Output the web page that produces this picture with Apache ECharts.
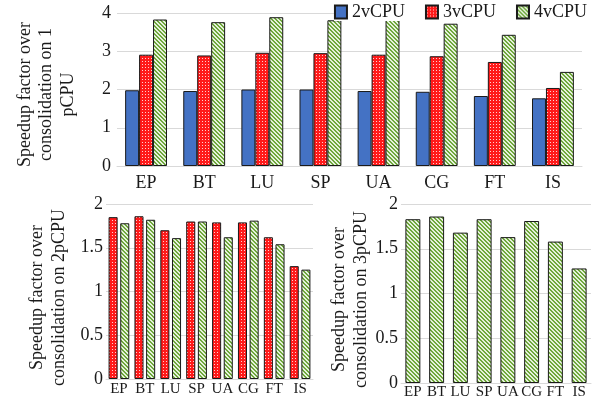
<!DOCTYPE html>
<html><head><meta charset="utf-8">
<script src="https://cdn.jsdelivr.net/npm/echarts@6/dist/echarts.min.js"></script>
<style>html,body{margin:0;padding:0;background:#fff}#c{width:597px;height:404px}</style>
</head><body><div id="c"></div>
<script>
const categories = ['EP','BT','LU','SP','UA','CG','FT','IS'];
const seriesNames = ['2vCPU','3vCPU','4vCPU'];
const vcpu2On1 = [1.98,1.96,2.00,2.00,1.96,1.94,1.83,1.77];
const vcpu3On1 = [2.91,2.89,2.96,2.95,2.91,2.87,2.72,2.04];
const vcpu4On1 = [3.83,3.76,3.89,3.81,3.82,3.72,3.43,2.46];
const vcpu3On2 = [1.85,1.86,1.70,1.80,1.79,1.79,1.62,1.29];
const vcpu4On2 = [1.78,1.82,1.61,1.80,1.62,1.81,1.54,1.25];
const vcpu4On3 = [1.83,1.86,1.68,1.83,1.63,1.81,1.58,1.28];
const topTicks = [0,1,2,3,4];
const bottomTicks = [0,0.5,1,1.5,2];

function dotPattern(){
  const c=document.createElement('canvas');c.width=3;c.height=3;
  const g=c.getContext('2d');g.fillStyle='#ff1a1a';g.fillRect(0,0,3,3);
  g.fillStyle='#ffd0d0';g.fillRect(1,1,1,1);return c;
}
function stripePattern(){
  const c=document.createElement('canvas');c.width=4;c.height=4;
  const g=c.getContext('2d');g.fillStyle='#e6f1dc';g.fillRect(0,0,4,4);
  g.fillStyle='#6fa83c';
  for(let y=0;y<4;y++)for(let x=0;x<4;x++){const d=((x-y)%4+4)%4;if(d<2)g.fillRect(x,y,1,1);}
  return c;
}
const blueStyle={color:'#4472c4',borderColor:'#1a1a1a',borderWidth:1};
const redStyle={color:{image:dotPattern(),repeat:'repeat'},borderColor:'#1a1a1a',borderWidth:1};
const greenStyle={color:{image:stripePattern(),repeat:'repeat'},borderColor:'#1a1a1a',borderWidth:1};
const FF='Liberation Serif';
const TXT='#1a1a1a';

function xAx(idx,fs,margin){return {type:'category',gridIndex:idx,data:categories,
  axisLine:{show:true,lineStyle:{color:'#d9d9d9'}},axisTick:{show:false},
  axisLabel:{interval:0,fontFamily:FF,fontSize:fs,color:TXT,margin:margin}};}
function yAx(idx,ticks,name,gap,pad,lm){return {type:'value',gridIndex:idx,min:ticks[0],max:ticks[ticks.length-1],
  interval:ticks[1]-ticks[0],name:name,nameLocation:'middle',nameRotate:90,nameGap:gap,
  nameTextStyle:{fontFamily:FF,fontSize:18,color:TXT,lineHeight:21.5,padding:pad},
  axisLine:{show:false},axisTick:{show:false},
  axisLabel:{fontFamily:FF,fontSize:18,color:TXT,margin:lm},
  splitLine:{lineStyle:{color:'#d9d9d9'}}};}

const chart=echarts.init(document.getElementById('c'));
chart.setOption({
  animation:false,
  legend:{data:seriesNames,right:10,top:3,itemWidth:12,itemHeight:13,itemGap:20,icon:'rect',
    backgroundColor:'#fff',padding:0,
    textStyle:{fontFamily:FF,fontSize:18,color:TXT,lineHeight:13}},
  grid:[
    {left:117,right:15,top:13,bottom:238},
    {left:106,right:284,top:204,bottom:25},
    {left:401,right:6,top:204,bottom:21}
  ],
  xAxis:[xAx(0,18,8),xAx(1,15,3),xAx(2,15,2)],
  yAxis:[
    yAx(0,topTicks,'Speedup factor over\nconsolidation on 1\npCPU',38,[0,10,0,0],6),
    yAx(1,bottomTicks,'Speedup factor over\nconsolidation on 2pCPU',36,[0,12,0,0],3),
    yAx(2,bottomTicks,'Speedup factor over\nconsolidation on 3pCPU',24,[0,12,0,0],3)
  ],
  series:[
    {name:seriesNames[0],type:'bar',xAxisIndex:0,yAxisIndex:0,data:vcpu2On1,itemStyle:blueStyle,barGap:'0%',barCategoryGap:'28%'},
    {name:seriesNames[1],type:'bar',xAxisIndex:0,yAxisIndex:0,data:vcpu3On1,itemStyle:redStyle,barGap:'0%',barCategoryGap:'28%'},
    {name:seriesNames[2],type:'bar',xAxisIndex:0,yAxisIndex:0,data:vcpu4On1,itemStyle:greenStyle,barGap:'0%',barCategoryGap:'28%'},
    {name:'3vCPU (2pCPU)',type:'bar',xAxisIndex:1,yAxisIndex:1,data:vcpu3On2,itemStyle:redStyle,barGap:'29%',barCategoryGap:'20%'},
    {name:'4vCPU (2pCPU)',type:'bar',xAxisIndex:1,yAxisIndex:1,data:vcpu4On2,itemStyle:greenStyle,barGap:'29%',barCategoryGap:'20%'},
    {name:'4vCPU (3pCPU)',type:'bar',xAxisIndex:2,yAxisIndex:2,data:vcpu4On3,itemStyle:greenStyle,barCategoryGap:'37%'}
  ]
});
</script></body></html>
